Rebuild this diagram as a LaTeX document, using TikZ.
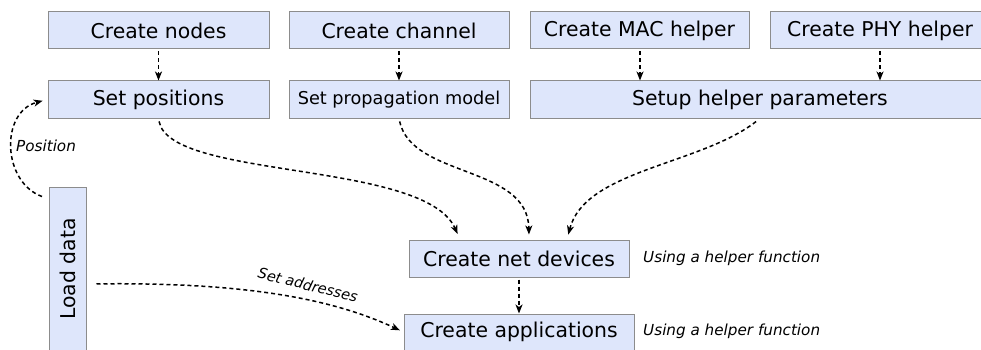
\documentclass[tikz,border=0pt]{standalone}
\usepackage{fontspec}
\setmainfont{DejaVu Sans}
\usetikzlibrary{arrows.meta}
\definecolor{boxfill}{RGB}{222,230,251}
\definecolor{boxline}{RGB}{140,140,140}
\tikzset{
  stepbox/.style={draw=boxline, line width=1pt, fill=boxfill, inner sep=0pt,
    font=\fontsize{20.4}{24}\selectfont, minimum height=37pt},
  flow/.style={line width=1.5pt, dash pattern=on 4pt off 3pt,
    -{Stealth[length=9pt,width=7pt,inset=2.5pt]}},
  note/.style={font=\itshape\fontsize{15.2}{18}\selectfont, inner sep=0pt},
}
\begin{document}
\begin{tikzpicture}[x=1pt,y=-1pt]
\useasboundingbox (0,0) rectangle (981,350);

% top row: creation steps
\node[stepbox, minimum width=221pt] (cnodes) at (158.5,30.5) {Create nodes};
\node[stepbox, minimum width=220pt] (cchan) at (399,30.5) {Create channel};
\node[stepbox, minimum width=219pt] (cmac) at (639.5,30.5) {Create MAC helper};
\node[stepbox, minimum width=220pt] (cphy) at (880,30.5) {Create PHY helper};

% second row: configuration steps
\node[stepbox, minimum width=221pt] (spos) at (158.5,99.5) {Set positions};
\node[stepbox, minimum width=220pt, font=\fontsize{17.7}{21}\selectfont] (sprop) at (399,99.5) {Set propagation model};
\node[stepbox, minimum width=460pt] (shelp) at (760,99.5) {Setup helper parameters};

% data source and final steps
\node[stepbox, minimum width=164pt, minimum height=37pt, rotate=90] (ldata) at (67.5,269) {Load data};
\node[stepbox, minimum width=220pt] (netdev) at (519,258.5) {Create net devices};
\node[stepbox, minimum width=230pt, minimum height=36pt] (apps) at (519,332) {Create applications};

\node[note, anchor=west] (n1) at (643,258) {Using a helper function};
\node[note, anchor=west] (n2) at (643,331) {Using a helper function};

% vertical flows
\draw[flow, shorten <=2pt] (cnodes.south) -- (spos.north);
\draw[flow, shorten <=2pt] (cchan.south) -- (sprop.north);
\draw[flow, shorten <=2pt] ([xshift=0.5pt]cmac.south) -- ([xshift=0.5pt]cmac.south |- shelp.north);
\draw[flow, shorten <=2pt] (cphy.south) -- (cphy.south |- shelp.north);
\draw[flow, shorten <=2pt] (netdev.south) -- (apps.north);

% converging flows into the net devices step
\draw[flow, shorten <=3pt, shorten >=6pt] (spos.south)
  .. controls (170,180) and (425,160) .. ([xshift=-59pt]netdev.north);
\draw[flow, shorten <=3pt, shorten >=5pt] (sprop.south)
  .. controls (412,178) and (528,165) .. ([xshift=10pt]netdev.north);
\draw[flow, shorten <=5pt, shorten >=5pt] (shelp.south)
  .. controls (700,165) and (585,170) .. ([xshift=48pt]netdev.north);

% flows out of the data source
\draw[flow, shorten <=10pt, shorten >=4pt] ([yshift=-15pt]ldata.south)
  .. controls (250,282) and (335,300) .. (apps.west);
\node[font=\itshape\fontsize{14.5}{17}\selectfont, rotate=-14, inner sep=0pt] (lbladdr) at (308,285) {Set addresses};

\draw[flow, shorten >=5pt] ([xshift=-25.5pt,yshift=-10pt]ldata.east)
  .. controls (2,182) and (0,112) .. (spos.west);
\node[note, anchor=west] (lblpos) at (16,146) {Position};
\end{tikzpicture}
\end{document}
